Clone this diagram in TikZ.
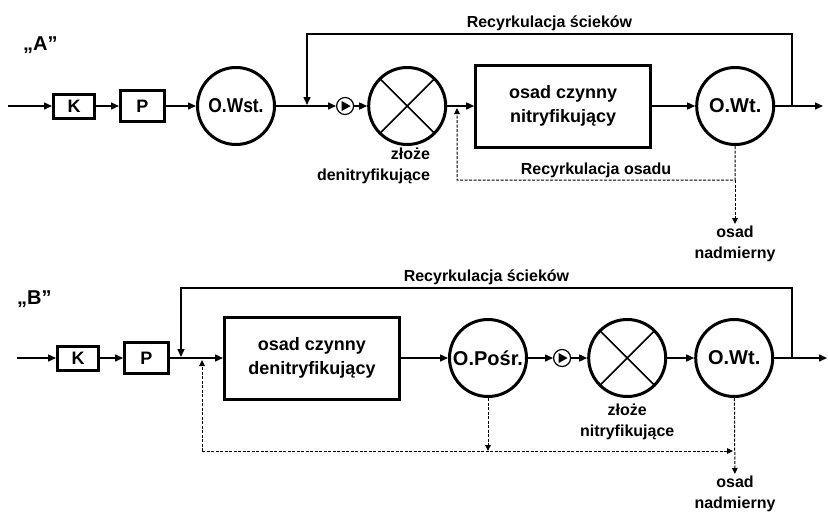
\documentclass[tikz,border=0pt]{standalone}
\usepackage{fontspec}
\setmainfont{Liberation Sans}
\usetikzlibrary{arrows.meta, positioning}

\begin{document}
\begin{tikzpicture}[
  x=1pt, y=-1pt,
  every node/.style={font=\bfseries\fontsize{16}{21}\selectfont, align=center, inner sep=2pt},
  device/.style={rectangle, draw, line width=3pt, minimum width=41pt, minimum height=24pt, inner sep=0pt, font=\bfseries\fontsize{18}{24}\selectfont},
  pre/.style={minimum width=44pt, minimum height=31pt},
  reactor/.style={rectangle, draw, line width=3pt, minimum width=175pt, minimum height=82pt, font=\bfseries\fontsize{18}{24}\selectfont},
  tank/.style={circle, draw, line width=3pt, minimum size=77pt, inner sep=0pt, font=\bfseries\fontsize{20}{24}\selectfont},
  bed/.style={circle, draw, line width=3pt, minimum size=77pt, inner sep=0pt,
    path picture={\draw[line width=1.5pt]
      (path picture bounding box.north west) -- (path picture bounding box.south east)
      (path picture bounding box.south west) -- (path picture bounding box.north east);}},
  pump/.style={circle, draw, line width=1.2pt, minimum size=17pt, inner sep=0pt,
    path picture={\fill
      ([xshift=-3.5pt, yshift=5pt]path picture bounding box.center) --
      ([xshift=5.5pt]path picture bounding box.center) --
      ([xshift=-3.5pt, yshift=-5pt]path picture bounding box.center) -- cycle;}},
  flow/.style={-{Triangle[length=8pt, width=7pt]}, line width=1.5pt},
  sludge/.style={-{Triangle[length=6pt, width=5.5pt]}, line width=1pt, dash pattern=on 3pt off 1.5pt},
  title/.style={font=\bfseries\fontsize{20}{24}\selectfont, anchor=base west, inner sep=0pt}
]
\useasboundingbox (0,0) rectangle (828,517);

% Scheme A
\node[title] (titleA) at (23,50) {„A”};

\node[device] (kA) at (74,106) {K};
\node[device, pre, right=23pt of kA] (pA) {P};
\node[tank, right=30pt of pA] (owstA) {\scalebox{0.87}[1]{O.Wst.}};
\node[pump, right=60pt of owstA] (pumpA) {};
\node[bed, right=13pt of pumpA] (bedA) {};
\node[reactor, right=27pt of bedA] (boxA) {osad czynny\\nitryfikujący};
\node[tank, right=43pt of boxA] (owtA) {O.Wt.};

\node[align=right, anchor=north east] (bedAtxt) at ([xshift=25pt]bedA.south) {złoże\\denitryfikujące};
\node[anchor=north] (excessA) at (735,224) {osad\\nadmierny};

\coordinate (inA) at (8,106);
\coordinate (outA) at (823,106);
\coordinate (jA) at (792,106);
\coordinate (retA) at (792,34);
\coordinate (mixA) at (307,105);
\coordinate (dropA) at (735,180);
\coordinate (feedA) at (457,108);

% Arrows
\draw[flow] (inA) -- (kA);
\draw[flow] (kA) -- (pA);
\draw[flow] (pA) -- (owstA);
\draw[flow] (owstA) -- (pumpA);
\draw[flow] (pumpA) -- (bedA);
\draw[flow] (bedA) -- (boxA);
\draw[flow] (boxA) -- (owtA);
\draw[flow] (owtA) -- (outA);
\draw[flow] (jA) -- (retA) -| node[pos=0.25, above] {Recyrkulacja ścieków} (mixA);
\draw[sludge] (owtA) -- (dropA) -| node[pos=0.25, above] {Recyrkulacja osadu} (feedA);
\draw[sludge] (dropA) -- (excessA);

% Scheme B
\node[title] (titleB) at (17,304) {„B”};

\node[device] (kB) at (78,358) {K};
\node[device, pre, right=23pt of kB] (pB) {P};
\node[reactor, right=53pt of pB] (boxB) {osad czynny\\denitryfikujący};
\node[tank, right=47pt of boxB] (oposB) {O.Pośr.};
\node[pump, right=25pt of oposB] (pumpB) {};
\node[bed, right=16pt of pumpB] (bedB) {};
\node[tank, right=27pt of bedB] (owtB) {O.Wt.};

\node[below=4pt of bedB] (bedBtxt) {złoże\\nitryfikujące};
\node[anchor=north] (excessB) at (735,474) {osad\\nadmierny};

\coordinate (inB) at (17,358);
\coordinate (outB) at (827,358);
\coordinate (jB) at (792,358);
\coordinate (retB) at (792,288);
\coordinate (mixB) at (181,357);
\coordinate (backB) at (202,451);
\coordinate (feedB) at (202,360);
\coordinate (sumB) at (733,451);

% Arrows
\draw[flow] (inB) -- (kB);
\draw[flow] (kB) -- (pB);
\draw[flow] (pB) -- (boxB);
\draw[flow] (boxB) -- (oposB);
\draw[flow] (oposB) -- (pumpB);
\draw[flow] (pumpB) -- (bedB);
\draw[flow] (bedB) -- (owtB);
\draw[flow] (owtB) -- (outB);
\draw[flow] (jB) -- (retB) -| node[pos=0.25, above] {Recyrkulacja ścieków} (mixB);
\draw[sludge] (oposB) -- (oposB |- backB);
\draw[sludge] (backB) -- (sumB);
\draw[sludge] (backB) -- (feedB);
\draw[sludge] (owtB) -- (excessB);

\end{tikzpicture}
\end{document}
